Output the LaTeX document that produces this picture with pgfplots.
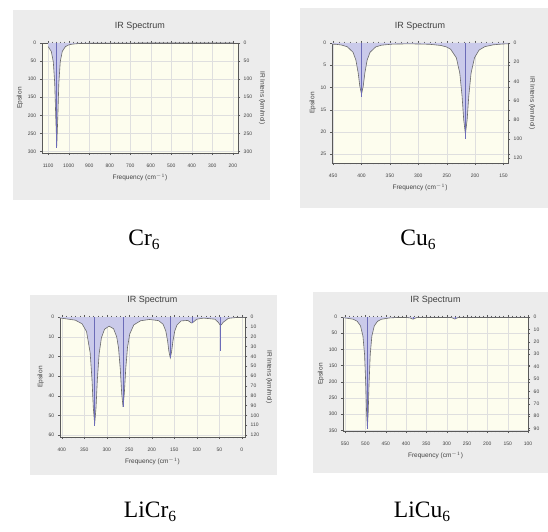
\documentclass[border=0pt]{standalone}
\usepackage{pgfplots}
\pgfplotsset{compat=1.18}
\usepackage{fontspec}
\setmainfont{Liberation Sans}
\newfontfamily\seriffont{Liberation Serif}
\definecolor{panel}{HTML}{ECECEC}
\definecolor{plotbg}{HTML}{FDFDEE}
\definecolor{curvec}{HTML}{6A6A6A}
\definecolor{stickc}{HTML}{6C6CB8}
\definecolor{peakfill}{HTML}{CACAEA}
\definecolor{txt}{HTML}{404040}
\newcommand{\molcap}[2]{{\seriffont\fontsize{23.5}{26}\selectfont #1\raisebox{-0.35ex}{\fontsize{15.5}{16}\selectfont #2}}}
\pgfplotsset{
  ir/.style={scale only axis, anchor=south west, x dir=reverse, y dir=reverse,
    axis background/.style={fill=plotbg},
    grid=major, major grid style={gray!25, line width=0.3pt},
    axis line style={gray!70!black, line width=0.5pt},
    every tick/.style={gray!70!black, line width=0.3pt},
    tick align=outside, major tick length=2.2pt, minor tick length=1.3pt,
    minor x tick num=4,
    tick label style={font=\fontsize{5}{6}\selectfont, text=txt},
    /pgf/number format/assume math mode=true,
    /pgf/number format/1000 sep={},
    xticklabel shift=5pt,
    label style={font=\fontsize{6.5}{7}\selectfont, text=txt},
    title style={font=\fontsize{9}{10}\selectfont, text=txt, yshift=3pt},
    title={IR Spectrum}, xlabel={Frequency (cm$^{-1}$)}, ylabel={Epsilon},
    ylabel style={yshift=-2pt}},
  irr/.style={scale only axis, anchor=south west, x dir=reverse, y dir=reverse,
    axis x line=none, axis y line*=right, yticklabel pos=right, ylabel near ticks,
    axis line style={gray!70!black, line width=0.5pt},
    every tick/.style={gray!70!black, line width=0.3pt},
    tick align=outside, major tick length=2.2pt,
    tick label style={font=\fontsize{5}{6}\selectfont, text=txt},
    /pgf/number format/assume math mode=true,
    label style={font=\fontsize{6.5}{7}\selectfont, text=txt},
    ylabel style={rotate=180}},
  cfill/.style={fill=peakfill, draw=none},
  curve/.style={curvec, line width=0.6pt, mark=none},
  stick/.style={stickc, line width=0.6pt, mark=none}
}
\begin{document}
\begin{tikzpicture}[x=1pt,y=1pt]
\path[use as bounding box, fill=white] (0,0) rectangle (548,531);
\fill[panel] (13,331) rectangle (270,521);
\fill[panel] (300,323) rectangle (548,523);
\fill[panel] (30,56) rectangle (277,236);
\fill[panel] (313,58) rectangle (548,239);

% ---------- Cr6 ----------
\begin{axis}[ir, at={(42pt,378pt)}, width=196pt, height=110pt,
  xmin=175, xmax=1130, ymin=0, ymax=304,
  xtick={200,300,...,1100}, ytick={0,50,...,300}]
\addplot[cfill] coordinates {(1100,10.0) (1085,23.0) (1075,51.6) (1068,111) (1063,205) (1058,285) (1053,205) (1048,111) (1041,51.6) (1031,23.0) (1016,10.0) (1000,5.3) (980,2.97) (950,1.56) (900,0.73) (800,0.27) (600,0.09) (400,0.04) (200,0.02)} \closedcycle;
\addplot[curve] coordinates {(1100,10.0) (1085,23.0) (1075,51.6) (1068,111) (1063,205) (1058,285) (1053,205) (1048,111) (1041,51.6) (1031,23.0) (1016,10.0) (1000,5.3) (980,2.97) (950,1.56) (900,0.73) (800,0.27) (600,0.09) (400,0.04) (200,0.02)};
\addplot[stick] coordinates {(1058,0) (1058,290)};
\end{axis}
\begin{axis}[irr, at={(42pt,378pt)}, width=196pt, height=110pt,
  xmin=175, xmax=1130, ymin=0, ymax=304, ytick={0,50,...,300},
  ylabel={IR Intens (km/mol)}]
\end{axis}

% ---------- Cu6 ----------
\begin{axis}[ir, at={(332pt,368pt)}, width=176pt, height=120pt,
  xmin=142, xmax=452, ymin=0, ymax=27,
  xtick={150,200,...,450}, ytick={0,5,...,25}]
\addplot[cfill] coordinates {(452,0.26) (445,0.29) (435,0.46) (425,0.86) (415,2.08) (410,3.8) (406,6.64) (403,9.72) (400,11.53) (397,9.72) (394,6.64) (390,3.8) (385,2.09) (375,0.88) (365,0.49) (345,0.25) (320,0.2) (300,0.22) (280,0.29) (260,0.56) (250,0.9) (243,1.41) (233,3.32) (227,6.74) (223,11.8) (220,17.3) (217,20.5) (214,17.3) (211,11.8) (207,6.74) (201,3.32) (193,1.6) (183,0.83) (168,0.41) (153,0.24) (142,0.18)} \closedcycle;
\addplot[curve] coordinates {(452,0.26) (445,0.29) (435,0.46) (425,0.86) (415,2.08) (410,3.8) (406,6.64) (403,9.72) (400,11.53) (397,9.72) (394,6.64) (390,3.8) (385,2.09) (375,0.88) (365,0.49) (345,0.25) (320,0.2) (300,0.22) (280,0.29) (260,0.56) (250,0.9) (243,1.41) (233,3.32) (227,6.74) (223,11.8) (220,17.3) (217,20.5) (214,17.3) (211,11.8) (207,6.74) (201,3.32) (193,1.6) (183,0.83) (168,0.41) (153,0.24) (142,0.18)};
\addplot[stick] coordinates {(400,0) (400,12.2)};
\addplot[stick] coordinates {(217,0) (217,21.5)};
\end{axis}
\begin{axis}[irr, at={(332pt,368pt)}, width=176pt, height=120pt,
  xmin=142, xmax=452, ymin=0, ymax=125, ytick={0,20,...,120},
  ylabel={IR Intens (km/mol)}]
\end{axis}

% ---------- LiCr6 ----------
\begin{axis}[ir, at={(60pt,94pt)}, width=185pt, height=120pt,
  xmin=-7, xmax=404, ymin=0, ymax=61,
  xtick={0,50,...,400}, ytick={0,10,...,60}]
\addplot[cfill] coordinates {(404,0.58) (400,0.61) (370,1.6) (355,3.44) (345,7.4) (337,18.2) (333,31.5) (330,46.1) (327,54.5) (324,46.2) (321,31.8) (317,18.6) (312,10.6) (305,6.2) (295,4.65) (285,5.96) (278,10.1) (274,15.7) (270,26.7) (267,38.7) (264,45.7) (261,38.6) (258,26.6) (254,15.4) (249,8.6) (240,4.0) (225,1.9) (205,1.25) (185,1.84) (175,3.66) (169,7.05) (165,12.1) (162,17.6) (159,20.8) (156,17.6) (153,12.1) (149,7.07) (144,4.03) (135,2.0) (120,1.73) (114,2.72) (111,3.06) (108,2.6) (100,1.11) (85,0.56) (60,1.1) (52,2.79) (49,3.84) (47,4.14) (45,3.84) (42,2.79) (30,0.68) (10,0.21) (0,0.16) (-7,0.14)} \closedcycle;
\addplot[curve] coordinates {(404,0.58) (400,0.61) (370,1.6) (355,3.44) (345,7.4) (337,18.2) (333,31.5) (330,46.1) (327,54.5) (324,46.2) (321,31.8) (317,18.6) (312,10.6) (305,6.2) (295,4.65) (285,5.96) (278,10.1) (274,15.7) (270,26.7) (267,38.7) (264,45.7) (261,38.6) (258,26.6) (254,15.4) (249,8.6) (240,4.0) (225,1.9) (205,1.25) (185,1.84) (175,3.66) (169,7.05) (165,12.1) (162,17.6) (159,20.8) (156,17.6) (153,12.1) (149,7.07) (144,4.03) (135,2.0) (120,1.73) (114,2.72) (111,3.06) (108,2.6) (100,1.11) (85,0.56) (60,1.1) (52,2.79) (49,3.84) (47,4.14) (45,3.84) (42,2.79) (30,0.68) (10,0.21) (0,0.16) (-7,0.14)};
\addplot[stick] coordinates {(327,0) (327,55.5)};
\addplot[stick] coordinates {(264,0) (264,46)};
\addplot[stick] coordinates {(159,0) (159,21)};
\addplot[stick] coordinates {(111,0) (111,3.2)};
\addplot[stick] coordinates {(47,0) (47,17.5)};
\end{axis}
\begin{axis}[irr, at={(60pt,94pt)}, width=185pt, height=120pt,
  xmin=-7, xmax=404, ymin=0, ymax=122, ytick={0,10,...,120},
  ylabel={IR Intens (km/mol)}]
\end{axis}

% ---------- LiCu6 ----------
\begin{axis}[ir, at={(343pt,100pt)}, width=185pt, height=114pt,
  xmin=100, xmax=555, ymin=0, ymax=352,
  xtick={100,150,...,550}, ytick={0,50,...,350}]
\addplot[cfill] coordinates {(555,2.3) (550,2.8) (530,6.8) (520,13.2) (512,27.2) (506,58.6) (502,115.5) (499,208.5) (497,294.8) (495,342) (493,294.8) (491,208.5) (488,115.5) (484,58.6) (478,27.2) (470,13.2) (460,6.8) (440,2.8) (420,1.51) (400,1.42) (390,2.8) (386,5.13) (383,6.69) (380,5.07) (375,2.31) (365,0.94) (340,0.44) (300,0.57) (288,1.89) (284,3.86) (280,6.2) (276,3.86) (272,1.89) (260,0.5) (230,0.18) (200,0.1) (150,0.07) (100,0.05)} \closedcycle;
\addplot[curve] coordinates {(555,2.3) (550,2.8) (530,6.8) (520,13.2) (512,27.2) (506,58.6) (502,115.5) (499,208.5) (497,294.8) (495,342) (493,294.8) (491,208.5) (488,115.5) (484,58.6) (478,27.2) (470,13.2) (460,6.8) (440,2.8) (420,1.51) (400,1.42) (390,2.8) (386,5.13) (383,6.69) (380,5.07) (375,2.31) (365,0.94) (340,0.44) (300,0.57) (288,1.89) (284,3.86) (280,6.2) (276,3.86) (272,1.89) (260,0.5) (230,0.18) (200,0.1) (150,0.07) (100,0.05)};
\addplot[stick] coordinates {(495,0) (495,345)};
\addplot[stick] coordinates {(383,0) (383,6)};
\addplot[stick] coordinates {(280,0) (280,6)};
\end{axis}
\begin{axis}[irr, at={(343pt,100pt)}, width=185pt, height=114pt,
  xmin=100, xmax=555, ymin=0, ymax=92, ytick={0,10,...,90}]
\end{axis}

\node at (144,291) {\molcap{Cr}{6}};
\node at (418,291) {\molcap{Cu}{6}};
\node at (150,19) {\molcap{LiCr}{6}};
\node at (422,19) {\molcap{LiCu}{6}};
\end{tikzpicture}
\end{document}
